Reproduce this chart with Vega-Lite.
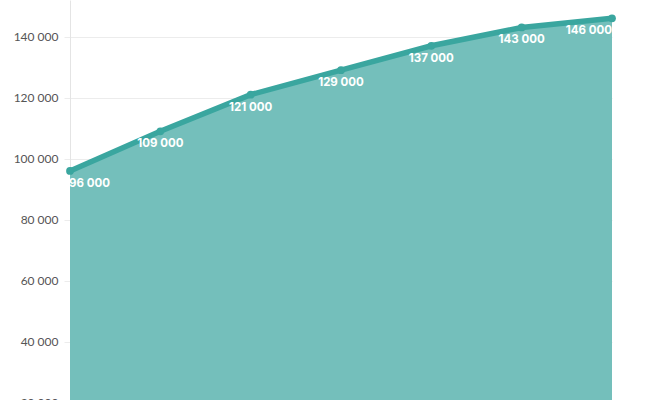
{
  "$schema": "https://vega.github.io/schema/vega-lite/v6.json",
  "width": 542,
  "height": 464,
  "autosize": {"type": "none"},
  "padding": {"left": 70, "top": 0, "right": 46, "bottom": 0},
  "config": {
    "locale": {"number": {"decimal": ".", "thousands": " ", "grouping": [3], "currency": ["", ""]}},
    "view": {"stroke": null},
    "font": "Lato"
  },
  "data": {
    "values": [
      {"year": "2017", "value": 96000},
      {"year": "2018", "value": 109000},
      {"year": "2019", "value": 121000},
      {"year": "2020", "value": 129000},
      {"year": "2021", "value": 137000},
      {"year": "2022", "value": 143000},
      {"year": "2023", "value": 146000}
    ]
  },
  "encoding": {
    "x": {"field": "year", "type": "ordinal", "scale": {"type": "point", "padding": 0}, "axis": null},
    "y": {
      "field": "value", "type": "quantitative",
      "scale": {"domain": [0, 152000], "nice": false, "zero": true},
      "axis": {
        "title": null,
        "values": [0, 20000, 40000, 60000, 80000, 100000, 120000, 140000],
        "format": ",d",
        "labelColor": "#555555",
        "labelFontSize": 12,
        "labelFont": "Lato",
        "labelPadding": 6,
        "tickSize": 6,
        "tickColor": "#ececec",
        "gridColor": "#ececec",
        "domainColor": "#e4e4e4",
        "grid": true
      }
    }
  },
  "layer": [
    {"mark": {"type": "area", "color": "#74bfbb", "opacity": 1}},
    {"mark": {"type": "line", "color": "#3aa69f", "strokeWidth": 5.5}},
    {"mark": {"type": "point", "filled": true, "color": "#3aa69f", "size": 60, "opacity": 1}},
    {
      "transform": [{"filter": "datum.year == '2017'"}],
      "mark": {"type": "text", "align": "left", "baseline": "middle", "dy": 13, "dx": -1, "color": "white", "fontWeight": "bold", "fontSize": 11.5, "font": "Inter"},
      "encoding": {"text": {"field": "value", "type": "quantitative", "format": ",d"}}
    },
    {
      "transform": [{"filter": "datum.year != '2017' && datum.year != '2023'"}],
      "mark": {"type": "text", "align": "center", "baseline": "middle", "dy": 13, "color": "white", "fontWeight": "bold", "fontSize": 11.5, "font": "Inter"},
      "encoding": {"text": {"field": "value", "type": "quantitative", "format": ",d"}}
    },
    {
      "transform": [{"filter": "datum.year == '2023'"}],
      "mark": {"type": "text", "align": "right", "baseline": "middle", "dy": 13, "dx": 0, "color": "white", "fontWeight": "bold", "fontSize": 11.5, "font": "Inter"},
      "encoding": {"text": {"field": "value", "type": "quantitative", "format": ",d"}}
    }
  ]
}
